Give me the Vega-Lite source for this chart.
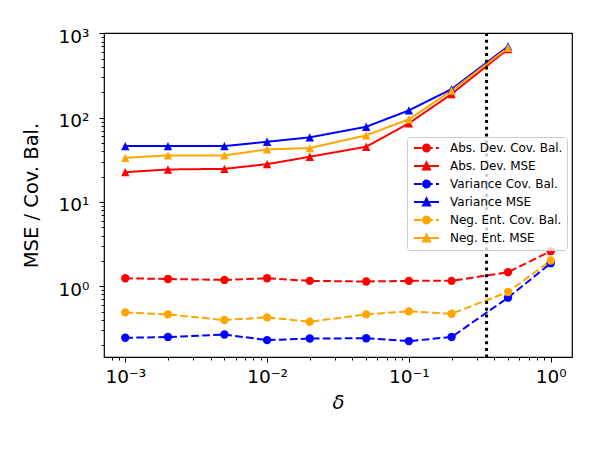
{
  "$schema": "https://vega.github.io/schema/vega-lite/v6.json",
  "width": 468,
  "height": 324,
  "autosize": {"type": "none"},
  "padding": {"left": 104, "top": 33, "right": 28, "bottom": 93},
  "background": "white",
  "config": {
    "font": "DejaVu Sans",
    "view": {"stroke": "black", "strokeWidth": 1.2},
    "axis": {
      "grid": false,
      "domain": false,
      "tickColor": "black",
      "tickWidth": 1,
      "labelColor": "black",
      "titleColor": "black",
      "labelFont": "DejaVu Sans",
      "titleFont": "DejaVu Sans",
      "labelFontSize": 18.5,
      "titleFontSize": 19.5,
      "titleFontWeight": "normal"
    }
  },
  "datasets": {
    "series": [
      {"delta": 0.001, "value": 1.245, "series": "Abs. Dev. Cov. Bal.", "metric": "Cov. Bal."},
      {"delta": 0.002, "value": 1.22, "series": "Abs. Dev. Cov. Bal.", "metric": "Cov. Bal."},
      {"delta": 0.005, "value": 1.19, "series": "Abs. Dev. Cov. Bal.", "metric": "Cov. Bal."},
      {"delta": 0.01, "value": 1.245, "series": "Abs. Dev. Cov. Bal.", "metric": "Cov. Bal."},
      {"delta": 0.02, "value": 1.16, "series": "Abs. Dev. Cov. Bal.", "metric": "Cov. Bal."},
      {"delta": 0.05, "value": 1.14, "series": "Abs. Dev. Cov. Bal.", "metric": "Cov. Bal."},
      {"delta": 0.1, "value": 1.16, "series": "Abs. Dev. Cov. Bal.", "metric": "Cov. Bal."},
      {"delta": 0.2, "value": 1.16, "series": "Abs. Dev. Cov. Bal.", "metric": "Cov. Bal."},
      {"delta": 0.5, "value": 1.47, "series": "Abs. Dev. Cov. Bal.", "metric": "Cov. Bal."},
      {"delta": 1.0, "value": 2.61, "series": "Abs. Dev. Cov. Bal.", "metric": "Cov. Bal."},

      {"delta": 0.001, "value": 22.6, "series": "Abs. Dev. MSE", "metric": "MSE"},
      {"delta": 0.002, "value": 24.3, "series": "Abs. Dev. MSE", "metric": "MSE"},
      {"delta": 0.005, "value": 24.7, "series": "Abs. Dev. MSE", "metric": "MSE"},
      {"delta": 0.01, "value": 28.1, "series": "Abs. Dev. MSE", "metric": "MSE"},
      {"delta": 0.02, "value": 34.4, "series": "Abs. Dev. MSE", "metric": "MSE"},
      {"delta": 0.05, "value": 45.2, "series": "Abs. Dev. MSE", "metric": "MSE"},
      {"delta": 0.1, "value": 85.7, "series": "Abs. Dev. MSE", "metric": "MSE"},
      {"delta": 0.2, "value": 191, "series": "Abs. Dev. MSE", "metric": "MSE"},
      {"delta": 0.5, "value": 652, "series": "Abs. Dev. MSE", "metric": "MSE"},

      {"delta": 0.001, "value": 0.245, "series": "Variance Cov. Bal.", "metric": "Cov. Bal."},
      {"delta": 0.002, "value": 0.25, "series": "Variance Cov. Bal.", "metric": "Cov. Bal."},
      {"delta": 0.005, "value": 0.268, "series": "Variance Cov. Bal.", "metric": "Cov. Bal."},
      {"delta": 0.01, "value": 0.23, "series": "Variance Cov. Bal.", "metric": "Cov. Bal."},
      {"delta": 0.02, "value": 0.24, "series": "Variance Cov. Bal.", "metric": "Cov. Bal."},
      {"delta": 0.05, "value": 0.242, "series": "Variance Cov. Bal.", "metric": "Cov. Bal."},
      {"delta": 0.1, "value": 0.224, "series": "Variance Cov. Bal.", "metric": "Cov. Bal."},
      {"delta": 0.2, "value": 0.25, "series": "Variance Cov. Bal.", "metric": "Cov. Bal."},
      {"delta": 0.5, "value": 0.733, "series": "Variance Cov. Bal.", "metric": "Cov. Bal."},
      {"delta": 1.0, "value": 1.88, "series": "Variance Cov. Bal.", "metric": "Cov. Bal."},

      {"delta": 0.001, "value": 46, "series": "Variance MSE", "metric": "MSE"},
      {"delta": 0.002, "value": 46, "series": "Variance MSE", "metric": "MSE"},
      {"delta": 0.005, "value": 46, "series": "Variance MSE", "metric": "MSE"},
      {"delta": 0.01, "value": 51.8, "series": "Variance MSE", "metric": "MSE"},
      {"delta": 0.02, "value": 58.4, "series": "Variance MSE", "metric": "MSE"},
      {"delta": 0.05, "value": 78, "series": "Variance MSE", "metric": "MSE"},
      {"delta": 0.1, "value": 122, "series": "Variance MSE", "metric": "MSE"},
      {"delta": 0.2, "value": 218, "series": "Variance MSE", "metric": "MSE"},
      {"delta": 0.5, "value": 700, "series": "Variance MSE", "metric": "MSE"},

      {"delta": 0.001, "value": 0.49, "series": "Neg. Ent. Cov. Bal.", "metric": "Cov. Bal."},
      {"delta": 0.002, "value": 0.464, "series": "Neg. Ent. Cov. Bal.", "metric": "Cov. Bal."},
      {"delta": 0.005, "value": 0.398, "series": "Neg. Ent. Cov. Bal.", "metric": "Cov. Bal."},
      {"delta": 0.01, "value": 0.428, "series": "Neg. Ent. Cov. Bal.", "metric": "Cov. Bal."},
      {"delta": 0.02, "value": 0.38, "series": "Neg. Ent. Cov. Bal.", "metric": "Cov. Bal."},
      {"delta": 0.05, "value": 0.464, "series": "Neg. Ent. Cov. Bal.", "metric": "Cov. Bal."},
      {"delta": 0.1, "value": 0.504, "series": "Neg. Ent. Cov. Bal.", "metric": "Cov. Bal."},
      {"delta": 0.2, "value": 0.473, "series": "Neg. Ent. Cov. Bal.", "metric": "Cov. Bal."},
      {"delta": 0.5, "value": 0.857, "series": "Neg. Ent. Cov. Bal.", "metric": "Cov. Bal."},
      {"delta": 1.0, "value": 2.02, "series": "Neg. Ent. Cov. Bal.", "metric": "Cov. Bal."},

      {"delta": 0.001, "value": 33.4, "series": "Neg. Ent. MSE", "metric": "MSE"},
      {"delta": 0.002, "value": 35.7, "series": "Neg. Ent. MSE", "metric": "MSE"},
      {"delta": 0.005, "value": 35.7, "series": "Neg. Ent. MSE", "metric": "MSE"},
      {"delta": 0.01, "value": 42, "series": "Neg. Ent. MSE", "metric": "MSE"},
      {"delta": 0.02, "value": 43.6, "series": "Neg. Ent. MSE", "metric": "MSE"},
      {"delta": 0.05, "value": 61.7, "series": "Neg. Ent. MSE", "metric": "MSE"},
      {"delta": 0.1, "value": 95.7, "series": "Neg. Ent. MSE", "metric": "MSE"},
      {"delta": 0.2, "value": 209, "series": "Neg. Ent. MSE", "metric": "MSE"},
      {"delta": 0.5, "value": 676, "series": "Neg. Ent. MSE", "metric": "MSE"}
    ],
    "threshold": [{"delta": 0.353}]
  },
  "layer": [
    {
      "data": {"name": "series"},
      "mark": {"type": "line", "strokeWidth": 2},
      "encoding": {
        "x": {
          "field": "delta", "type": "quantitative",
          "scale": {"type": "log", "domain": [0.000708, 1.413], "nice": false},
          "axis": {
            "orient": "bottom", "title": "δ", "titleFontStyle": "italic",
            "values": [0.0008, 0.0009, 0.001, 0.002, 0.003, 0.004, 0.005, 0.006, 0.007, 0.008, 0.009, 0.01, 0.02, 0.03, 0.04, 0.05, 0.06, 0.07, 0.08, 0.09, 0.1, 0.2, 0.3, 0.4, 0.5, 0.6, 0.7, 0.8, 0.9, 1],
            "tickSize": {"condition": {"test": "abs(log(datum.value)/LN10 - round(log(datum.value)/LN10)) < 0.001", "value": 5}, "value": 3},
            "labelPadding": 5, "titlePadding": 8, "labelOverlap": false,
            "labelExpr": "abs(log(datum.value)/LN10 - round(log(datum.value)/LN10)) > 0.001 ? '' : datum.value < 0.005 ? '10⁻³' : datum.value < 0.05 ? '10⁻²' : datum.value < 0.5 ? '10⁻¹' : '10⁰'"
          }
        },
        "y": {
          "field": "value", "type": "quantitative",
          "scale": {"type": "log", "domain": [0.145, 1010], "nice": false},
          "axis": {
            "orient": "left", "title": "MSE / Cov. Bal.",
            "values": [0.2, 0.3, 0.4, 0.5, 0.6, 0.7, 0.8, 0.9, 1, 2, 3, 4, 5, 6, 7, 8, 9, 10, 20, 30, 40, 50, 60, 70, 80, 90, 100, 200, 300, 400, 500, 600, 700, 800, 900, 1000],
            "tickSize": {"condition": {"test": "abs(log(datum.value)/LN10 - round(log(datum.value)/LN10)) < 0.001", "value": 5}, "value": 3},
            "labelPadding": 10, "titlePadding": 17, "labelOverlap": false,
            "labelOffset": 3,
            "labelExpr": "abs(log(datum.value)/LN10 - round(log(datum.value)/LN10)) > 0.001 ? '' : datum.value < 5 ? '10⁰' : datum.value < 50 ? '10¹' : datum.value < 500 ? '10²' : '10³'"
          }
        },
        "detail": {"field": "series"},
        "color": {
          "field": "series", "type": "nominal",
          "scale": {
            "domain": ["Abs. Dev. Cov. Bal.", "Abs. Dev. MSE", "Variance Cov. Bal.", "Variance MSE", "Neg. Ent. Cov. Bal.", "Neg. Ent. MSE"],
            "range": ["#ff0000", "#ff0000", "#0000ff", "#0000ff", "#ffa500", "#ffa500"]
          },
          "legend": {
            "title": null,
            "orient": "none",
            "legendX": 303,
            "legendY": 104,
            "padding": 4,
            "fillColor": "rgba(255,255,255,0.8)",
            "strokeColor": "#cccccc",
            "cornerRadius": 3,
            "labelFont": "DejaVu Sans",
            "labelFontSize": 12,
            "labelColor": "black",
            "labelLimit": 300,
            "symbolSize": 144,
            "symbolOffset": 8.5,
            "symbolStrokeWidth": 2,
            "labelOffset": 16.5,
            "rowPadding": 2,
            "encode": {
              "symbols": {
                "update": {
                  "shape": {"signal": "indexof(datum.value, 'Cov. Bal.') >= 0 ? 'M-2.083,0H-0.8M-0.25,0H1.033M1.583,0H2.083M-0.58,0A0.58,0.58 0 1,0 0.58,0A0.58,0.58 0 1,0 -0.58,0Z' : 'M-2.083,0H2.083M0,-0.58L-0.58,0.58L0.58,0.58Z'"},
                  "fill": {"scale": "color", "field": "value"},
                  "stroke": {"scale": "color", "field": "value"},
                  "strokeWidth": {"value": 2},
                  "strokeDash": {"value": []},
                  "opacity": {"value": 1}
                }
              }
            }
          }
        },
        "strokeDash": {
          "field": "metric", "type": "nominal", "legend": null,
          "scale": {"domain": ["Cov. Bal.", "MSE"], "range": [[7.7, 3.3], [1, 0]]}
        }
      }
    },
    {
      "data": {"name": "series"},
      "mark": {"type": "point", "filled": true, "opacity": 1, "size": 70},
      "encoding": {
        "x": {"field": "delta", "type": "quantitative"},
        "y": {"field": "value", "type": "quantitative"},
        "shape": {
          "field": "metric", "type": "nominal", "legend": null,
          "scale": {"domain": ["Cov. Bal.", "MSE"], "range": ["circle", "M0,-1L-1,1L1,1Z"]}
        },
        "color": {"field": "series", "type": "nominal", "legend": null}
      }
    },
    {
      "data": {"name": "threshold"},
      "mark": {"type": "rule", "color": "black", "strokeWidth": 3, "strokeDash": [3, 3.7]},
      "encoding": {
        "x": {"field": "delta", "type": "quantitative"}
      }
    }
  ]
}
